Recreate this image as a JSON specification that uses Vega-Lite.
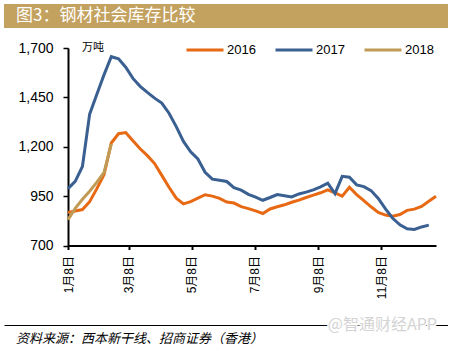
{
  "$schema": "https://vega.github.io/schema/vega-lite/v6.json",
  "padding": {"left": 4, "top": 4, "right": 0, "bottom": 0},
  "background": "white",
  "spacing": 13,
  "config": {"view": {"stroke": null}, "font": "Liberation Sans"},
  "vconcat": [
    {
      "width": 444,
      "height": 24,
      "view": {"fill": "#C3A15E", "stroke": null},
      "data": {"values": [{"label": "图3：钢材社会库存比较"}]},
      "mark": {"type": "text", "align": "left", "baseline": "middle", "color": "white", "font": "Noto Sans CJK SC", "fontSize": 17},
      "encoding": {
        "text": {"field": "label", "type": "nominal"},
        "x": {"datum": 0.027, "type": "quantitative", "scale": {"domain": [0, 1]}, "axis": null},
        "y": {"datum": 0.5, "type": "quantitative", "scale": {"domain": [0, 1]}, "axis": null}
      }
    },
    {
      "spacing": 18,
      "vconcat": [
        {
          "width": 432,
          "height": 197.5,
          "data": {"values": [
            {"date": "2017/01/08", "year": "2016", "value": 867},
            {"date": "2017/01/15", "year": "2016", "value": 875},
            {"date": "2017/01/22", "year": "2016", "value": 882},
            {"date": "2017/01/29", "year": "2016", "value": 922},
            {"date": "2017/02/05", "year": "2016", "value": 988},
            {"date": "2017/02/12", "year": "2016", "value": 1060},
            {"date": "2017/02/19", "year": "2016", "value": 1219},
            {"date": "2017/02/26", "year": "2016", "value": 1266},
            {"date": "2017/03/05", "year": "2016", "value": 1272},
            {"date": "2017/03/12", "year": "2016", "value": 1230},
            {"date": "2017/03/19", "year": "2016", "value": 1190},
            {"date": "2017/03/26", "year": "2016", "value": 1155},
            {"date": "2017/04/02", "year": "2016", "value": 1115},
            {"date": "2017/04/09", "year": "2016", "value": 1055},
            {"date": "2017/04/16", "year": "2016", "value": 995},
            {"date": "2017/04/23", "year": "2016", "value": 940},
            {"date": "2017/04/30", "year": "2016", "value": 911},
            {"date": "2017/05/07", "year": "2016", "value": 922},
            {"date": "2017/05/14", "year": "2016", "value": 940},
            {"date": "2017/05/21", "year": "2016", "value": 957},
            {"date": "2017/05/28", "year": "2016", "value": 950},
            {"date": "2017/06/04", "year": "2016", "value": 939},
            {"date": "2017/06/11", "year": "2016", "value": 920},
            {"date": "2017/06/18", "year": "2016", "value": 915},
            {"date": "2017/06/25", "year": "2016", "value": 897},
            {"date": "2017/07/02", "year": "2016", "value": 887},
            {"date": "2017/07/09", "year": "2016", "value": 875},
            {"date": "2017/07/16", "year": "2016", "value": 862},
            {"date": "2017/07/23", "year": "2016", "value": 885},
            {"date": "2017/07/30", "year": "2016", "value": 896},
            {"date": "2017/08/06", "year": "2016", "value": 906},
            {"date": "2017/08/13", "year": "2016", "value": 919},
            {"date": "2017/08/20", "year": "2016", "value": 930},
            {"date": "2017/08/27", "year": "2016", "value": 943},
            {"date": "2017/09/03", "year": "2016", "value": 955},
            {"date": "2017/09/10", "year": "2016", "value": 967},
            {"date": "2017/09/17", "year": "2016", "value": 982},
            {"date": "2017/09/24", "year": "2016", "value": 966},
            {"date": "2017/10/01", "year": "2016", "value": 950},
            {"date": "2017/10/08", "year": "2016", "value": 995},
            {"date": "2017/10/15", "year": "2016", "value": 958},
            {"date": "2017/10/22", "year": "2016", "value": 927},
            {"date": "2017/10/29", "year": "2016", "value": 896},
            {"date": "2017/11/05", "year": "2016", "value": 868},
            {"date": "2017/11/12", "year": "2016", "value": 854},
            {"date": "2017/11/19", "year": "2016", "value": 848},
            {"date": "2017/11/26", "year": "2016", "value": 857},
            {"date": "2017/12/03", "year": "2016", "value": 878},
            {"date": "2017/12/10", "year": "2016", "value": 884},
            {"date": "2017/12/17", "year": "2016", "value": 898},
            {"date": "2017/12/24", "year": "2016", "value": 924},
            {"date": "2017/12/31", "year": "2016", "value": 949},
            {"date": "2017/01/08", "year": "2017", "value": 988},
            {"date": "2017/01/15", "year": "2017", "value": 1025},
            {"date": "2017/01/22", "year": "2017", "value": 1100},
            {"date": "2017/01/29", "year": "2017", "value": 1365},
            {"date": "2017/02/05", "year": "2017", "value": 1466},
            {"date": "2017/02/12", "year": "2017", "value": 1565},
            {"date": "2017/02/19", "year": "2017", "value": 1656},
            {"date": "2017/02/26", "year": "2017", "value": 1645},
            {"date": "2017/03/05", "year": "2017", "value": 1603},
            {"date": "2017/03/12", "year": "2017", "value": 1546},
            {"date": "2017/03/19", "year": "2017", "value": 1506},
            {"date": "2017/03/26", "year": "2017", "value": 1475},
            {"date": "2017/04/02", "year": "2017", "value": 1446},
            {"date": "2017/04/09", "year": "2017", "value": 1421},
            {"date": "2017/04/16", "year": "2017", "value": 1370},
            {"date": "2017/04/23", "year": "2017", "value": 1302},
            {"date": "2017/04/30", "year": "2017", "value": 1227},
            {"date": "2017/05/07", "year": "2017", "value": 1174},
            {"date": "2017/05/14", "year": "2017", "value": 1138},
            {"date": "2017/05/21", "year": "2017", "value": 1071},
            {"date": "2017/05/28", "year": "2017", "value": 1036},
            {"date": "2017/06/04", "year": "2017", "value": 1030},
            {"date": "2017/06/11", "year": "2017", "value": 1024},
            {"date": "2017/06/18", "year": "2017", "value": 993},
            {"date": "2017/06/25", "year": "2017", "value": 980},
            {"date": "2017/07/02", "year": "2017", "value": 959},
            {"date": "2017/07/09", "year": "2017", "value": 945},
            {"date": "2017/07/16", "year": "2017", "value": 929},
            {"date": "2017/07/23", "year": "2017", "value": 943},
            {"date": "2017/07/30", "year": "2017", "value": 958},
            {"date": "2017/08/06", "year": "2017", "value": 952},
            {"date": "2017/08/13", "year": "2017", "value": 946},
            {"date": "2017/08/20", "year": "2017", "value": 961},
            {"date": "2017/08/27", "year": "2017", "value": 970},
            {"date": "2017/09/03", "year": "2017", "value": 982},
            {"date": "2017/09/10", "year": "2017", "value": 997},
            {"date": "2017/09/17", "year": "2017", "value": 1016},
            {"date": "2017/09/24", "year": "2017", "value": 963},
            {"date": "2017/10/01", "year": "2017", "value": 1050},
            {"date": "2017/10/08", "year": "2017", "value": 1046},
            {"date": "2017/10/15", "year": "2017", "value": 1007},
            {"date": "2017/10/22", "year": "2017", "value": 998},
            {"date": "2017/10/29", "year": "2017", "value": 978},
            {"date": "2017/11/05", "year": "2017", "value": 938},
            {"date": "2017/11/12", "year": "2017", "value": 885},
            {"date": "2017/11/19", "year": "2017", "value": 838},
            {"date": "2017/11/26", "year": "2017", "value": 805},
            {"date": "2017/12/03", "year": "2017", "value": 785},
            {"date": "2017/12/10", "year": "2017", "value": 781},
            {"date": "2017/12/17", "year": "2017", "value": 794},
            {"date": "2017/12/24", "year": "2017", "value": 803},
            {"date": "2017/01/08", "year": "2018", "value": 831},
            {"date": "2017/01/15", "year": "2018", "value": 888},
            {"date": "2017/01/22", "year": "2018", "value": 934},
            {"date": "2017/01/29", "year": "2018", "value": 975},
            {"date": "2017/02/05", "year": "2018", "value": 1021},
            {"date": "2017/02/12", "year": "2018", "value": 1070},
            {"date": "2017/02/19", "year": "2018", "value": 1215}
          ]},
          "mark": {"type": "line", "strokeWidth": 3, "interpolate": "linear"},
          "encoding": {
            "x": {
              "field": "date", "type": "temporal",
              "scale": {"domain": [{"year": 2017, "month": 1, "date": 8}, {"year": 2017, "month": 12, "date": 31}], "range": [64, 432]},
              "axis": {
                "values": [
                  {"year": 2017, "month": 1, "date": 8},
                  {"year": 2017, "month": 3, "date": 8},
                  {"year": 2017, "month": 5, "date": 8},
                  {"year": 2017, "month": 7, "date": 8},
                  {"year": 2017, "month": 9, "date": 8},
                  {"year": 2017, "month": 11, "date": 8}
                ],
                "format": "%-m月%-d日",
                "labelAngle": 270,
                "labelFlush": false,
                "labelOverlap": false,
                "labelFont": "Liberation Sans, Noto Sans CJK SC",
                "labelFontSize": 12,
                "labelColor": "black",
                "labelPadding": 6,
                "tickSize": 4,
                "tickWidth": 2,
                "tickColor": "black",
                "domainColor": "black",
                "domainWidth": 2,
                "grid": false,
                "title": null
              }
            },
            "y": {
              "field": "value", "type": "quantitative",
              "scale": {"domain": [700, 1700], "nice": false, "zero": false},
              "axis": {
                "values": [700, 950, 1200, 1450, 1700],
                "format": ",.0f",
                "offset": -64,
                "labelFont": "Liberation Sans",
                "labelFontSize": 14,
                "labelColor": "black",
                "labelPadding": 10,
                "tickSize": 5,
                "tickWidth": 1.5,
                "tickColor": "black",
                "domainColor": "black",
                "domainWidth": 2,
                "grid": false,
                "title": "万吨",
                "titleAngle": 0,
                "titleX": 24.5,
                "titleY": -0.5,
                "titleAlign": "center",
                "titleBaseline": "middle",
                "titleFont": "Noto Sans CJK SC",
                "titleFontSize": 11,
                "titleFontWeight": "normal",
                "titleColor": "black"
              }
            },
            "color": {
              "field": "year", "type": "nominal",
              "scale": {"domain": ["2016", "2017", "2018"], "range": ["#E86914", "#3A5F91", "#C09B55"]},
              "legend": {
                "orient": "none", "legendX": 181, "legendY": 26, "direction": "horizontal",
                "title": null, "symbolType": "stroke", "symbolSize": 1369, "symbolStrokeWidth": 3,
                "labelFont": "Liberation Sans", "labelFontSize": 13, "labelColor": "black",
                "labelOffset": 2, "columnPadding": 13, "padding": 0
              }
            }
          }
        },
        {
          "width": 444,
          "height": 24,
          "layer": [
            {
              "data": {"values": [{"label": "资料来源：西本新干线、招商证券（香港）"}]},
              "mark": {"type": "text", "align": "left", "baseline": "middle", "fontStyle": "italic", "fontSize": 13, "font": "Noto Sans CJK SC", "color": "black"},
              "encoding": {
                "text": {"field": "label", "type": "nominal"},
                "x": {"datum": 0.027, "type": "quantitative", "scale": {"domain": [0, 1]},
                      "axis": {"orient": "top", "domain": true, "domainColor": "black", "domainWidth": 1, "ticks": false, "labels": false, "grid": false, "title": null}},
                "y": {"datum": 0.42, "type": "quantitative", "scale": {"domain": [0, 1]}, "axis": null}
              }
            },
            {
              "data": {"values": [{"label": "@智通财经APP"}]},
              "mark": {"type": "text", "align": "right", "baseline": "middle", "fontSize": 16, "font": "Noto Sans CJK SC", "color": "white", "stroke": "white", "strokeWidth": 3},
              "encoding": {
                "text": {"field": "label", "type": "nominal"},
                "x": {"datum": 0.975, "type": "quantitative"},
                "y": {"datum": 1, "type": "quantitative"}
              }
            },
            {
              "data": {"values": [{"label": "@智通财经APP"}]},
              "mark": {"type": "text", "align": "right", "baseline": "middle", "fontSize": 16, "font": "Noto Sans CJK SC", "color": "#d4d4d4"},
              "encoding": {
                "text": {"field": "label", "type": "nominal"},
                "x": {"datum": 0.975, "type": "quantitative"},
                "y": {"datum": 1, "type": "quantitative"}
              }
            }
          ]
        }
      ]
    }
  ]
}
